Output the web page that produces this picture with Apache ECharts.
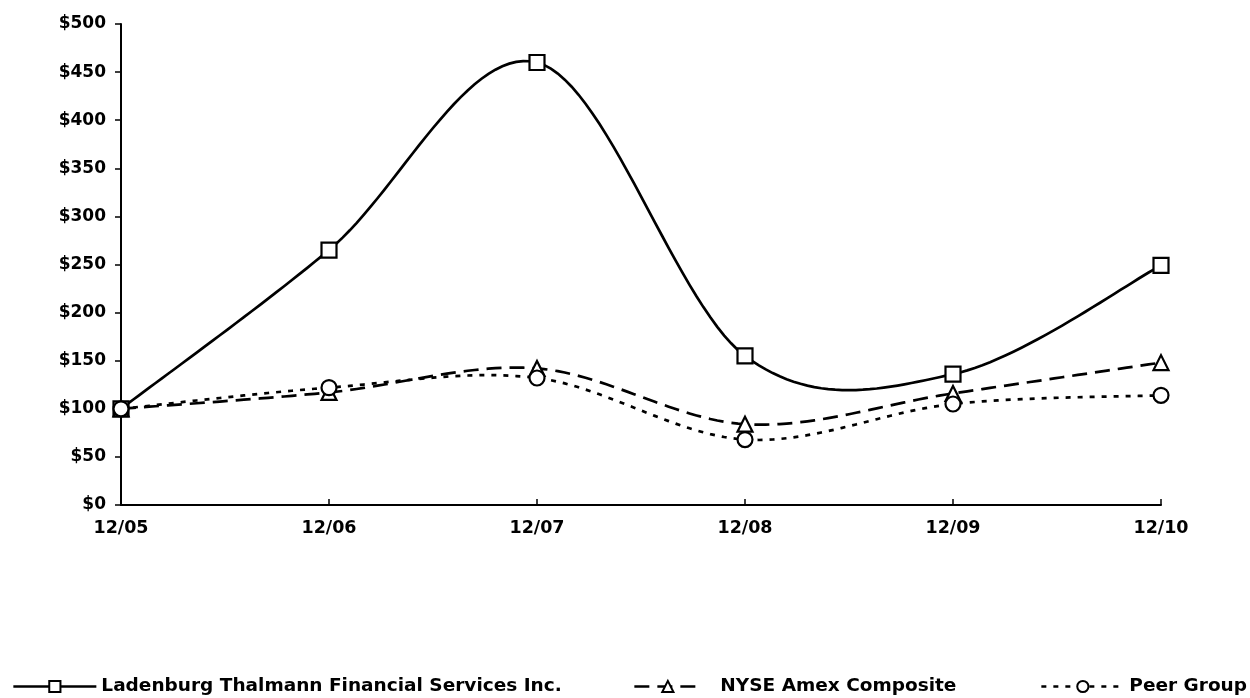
<!DOCTYPE html>
<html>
<head>
<meta charset="utf-8">
<script src="https://cdn.jsdelivr.net/npm/echarts@6/dist/echarts.min.js"></script>
<style>
html,body{margin:0;padding:0;background:#fff;}
#chart{width:1250px;height:698px;}
</style>
</head>
<body>
<div id="chart"></div>
<script>
const categories = ['12/05','12/06','12/07','12/08','12/09','12/10'];
const ladenburg = [100, 265, 460, 155, 136, 249];
const nyseAmex = [100, 117, 142, 84, 116, 148];
const peerGroup = [100, 122, 132, 68, 105, 114];
const seriesNames = ['Ladenburg Thalmann Financial Services Inc.', 'NYSE Amex Composite', 'Peer Group'];

const chart = echarts.init(document.getElementById('chart'));
const font = 'DejaVu Sans, Liberation Sans, sans-serif';
const mk = {color:'#fff', borderColor:'#000', borderWidth:2.2};
const styles = [
  {color:'#000', width:2.7, type:'solid'},
  {color:'#000', width:2.7, type:[15,8]},
  {color:'#000', width:2.7, type:[5,7]}
];

// Smooth curve (cardinal spline, Excel-like) through points mapped by the library's scales
function curveSeries(values, idx){
  return {
    name:'curve'+idx, type:'custom', data:[0], z:2, silent:true,
    renderItem:function(params, api){
      const pts = values.map((v,i)=>api.coord([i, v]));
      const out = [pts[0]];
      for(let i=0;i<pts.length-1;i++){
        const p0 = pts[i-1]||pts[i], p1 = pts[i], p2 = pts[i+1], p3 = pts[i+2]||pts[i+1];
        const c1 = [p1[0]+(p2[0]-p0[0])/6, p1[1]+(p2[1]-p0[1])/6];
        const c2 = [p2[0]-(p3[0]-p1[0])/6, p2[1]-(p3[1]-p1[1])/6];
        for(let s=1;s<=30;s++){
          const t=s/30, u=1-t;
          out.push([
            u*u*u*p1[0]+3*u*u*t*c1[0]+3*u*t*t*c2[0]+t*t*t*p2[0],
            u*u*u*p1[1]+3*u*u*t*c1[1]+3*u*t*t*c2[1]+t*t*t*p2[1]
          ]);
        }
      }
      const st = styles[idx];
      return {type:'polyline', shape:{points:out}, style:{stroke:st.color, lineWidth:st.width, fill:null, lineDash: st.type==='solid'?null:st.type}};
    }
  };
}
function legend(i, left, w, pad){
  return {
    data:[seriesNames[i]], left:left, top:677, padding:0, itemWidth:w, itemHeight:14, itemGap:0,
    lineStyle:Object.assign({opacity:1}, styles[i]),
    textStyle:{fontFamily:font, fontWeight:'bold', fontSize:18.5, color:'#000', padding:[0,0,0,pad]}
  };
}
function markerSeries(values, i, sym){
  return {name:seriesNames[i], type:'line', data:values, symbol:sym, symbolSize:15,
    lineStyle:{opacity:0, width:0}, itemStyle:mk, z:3};
}
chart.setOption({
  animation:false,
  backgroundColor:'#fff',
  legend:[legend(0,12,83,0), legend(1,633,67,14), legend(2,1040,83,0)],
  grid:{left:121, right:89, top:24, bottom:193},
  xAxis:{
    type:'category', data:categories, boundaryGap:false,
    axisLine:{lineStyle:{color:'#000', width:2}},
    axisTick:{inside:true, length:6, lineStyle:{color:'#000', width:1.5}},
    axisLabel:{fontFamily:font, fontWeight:'bold', fontSize:17.5, color:'#000', margin:14},
    splitLine:{show:false}
  },
  yAxis:{
    type:'value', min:0, max:500, interval:50,
    axisLine:{show:true, lineStyle:{color:'#000', width:2}},
    axisTick:{show:true, length:6, lineStyle:{color:'#000', width:1.5}},
    axisLabel:{fontFamily:font, fontWeight:'bold', fontSize:17, color:'#000', margin:15, formatter:v=>'$'+v},
    splitLine:{show:false}
  },
  series:[
    curveSeries(ladenburg,0), curveSeries(nyseAmex,1), curveSeries(peerGroup,2),
    markerSeries(ladenburg,0,'rect'), markerSeries(nyseAmex,1,'triangle'), markerSeries(peerGroup,2,'circle')
  ]
});
</script>
</body>
</html>
